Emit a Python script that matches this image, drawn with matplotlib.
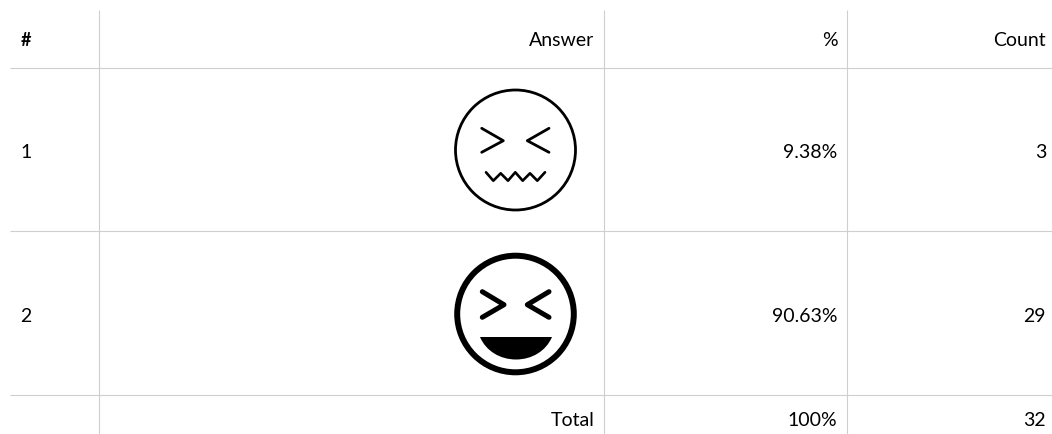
import matplotlib
matplotlib.use('Agg')
from matplotlib import pyplot as plt
from matplotlib.patches import Circle, PathPatch
from matplotlib.path import Path

plt.rcParams['font.family'] = ['Lato', 'DejaVu Sans']

headers = ['#', 'Answer', '%', 'Count']
row_ids = ['1', '2']
percents = ['9.38%', '90.63%']
counts = ['3', '29']
total_label = 'Total'
total_percent = '100%'
total_count = '32'

grid = '#cfcfcf'
ink = '#000000'
fs = 14

fig = plt.figure(figsize=(10.52, 4.34), dpi=100)
ax = fig.add_axes([0, 0, 1, 1])
ax.set_xlim(0, 1052)
ax.set_ylim(434, 0)
ax.axis('off')

# table rules
for y in [68, 231, 395]:
    ax.plot([10, 1052], [y, y], color=grid, lw=0.8, solid_capstyle='butt')
for x in [99, 604, 847]:
    ax.plot([x, x], [10, 434], color=grid, lw=0.8, solid_capstyle='butt')

# text
col_right = [594.5, 837.5, 1046]
header_y = 41
row_y = [152, 316]
total_y = 420

ax.text(21, header_y, headers[0], fontsize=fs - 1, fontweight='bold', ha='left', va='center', color=ink)
for x, h in zip(col_right, headers[1:]):
    ax.text(x, header_y, h, fontsize=fs, ha='right', va='center', color=ink)
for y, r, p, c in zip(row_y, row_ids, percents, counts):
    ax.text(20, y, r, fontsize=fs, ha='left', va='center', color=ink)
    ax.text(col_right[1], y, p, fontsize=fs, ha='right', va='center', color=ink)
    ax.text(col_right[2], y, c, fontsize=fs, ha='right', va='center', color=ink)
for x, t in zip(col_right, [total_label, total_percent, total_count]):
    ax.text(x, total_y, t, fontsize=fs, ha='right', va='center', color=ink)

# face 1, thin outline with a wavy mouth
ax.add_patch(Circle((515.5, 150), 60, fill=False, ec=ink, lw=2))
ax.plot([481.7, 503.3, 481.7], [128.3, 140.7, 152.3], color=ink, lw=2,
        solid_capstyle='round', solid_joinstyle='round')
ax.plot([549, 527.3, 549], [128.3, 140.7, 152.3], color=ink, lw=2,
        solid_capstyle='round', solid_joinstyle='round')
ax.plot([486, 493.3, 500.7, 508, 515.3, 522.7, 530, 537.3, 545],
        [172.3, 180.7, 173.3, 180.7, 172.3, 180.7, 173.3, 180.7, 172.3],
        color=ink, lw=1.9, solid_capstyle='round', solid_joinstyle='round')

# face 2, heavy outline with an open mouth
ax.add_patch(Circle((515.5, 314), 58.3, fill=False, ec=ink, lw=4.3))
ax.plot([482.3, 504, 482.3], [291.7, 304.7, 317.3], color=ink, lw=3.6,
        solid_capstyle='round', solid_joinstyle='round')
ax.plot([549, 527.3, 549], [291.7, 304.7, 317.3], color=ink, lw=3.6,
        solid_capstyle='round', solid_joinstyle='round')
mouth = Path([(480, 337), (486, 351), (500, 359.5), (516, 359.5), (532, 359.5), (546, 351), (552, 337), (480, 337)],
             [Path.MOVETO, Path.CURVE4, Path.CURVE4, Path.CURVE4, Path.CURVE4, Path.CURVE4, Path.CURVE4, Path.CLOSEPOLY])
ax.add_patch(PathPatch(mouth, fc=ink, ec='none'))

fig.savefig('out.png', dpi=100)
